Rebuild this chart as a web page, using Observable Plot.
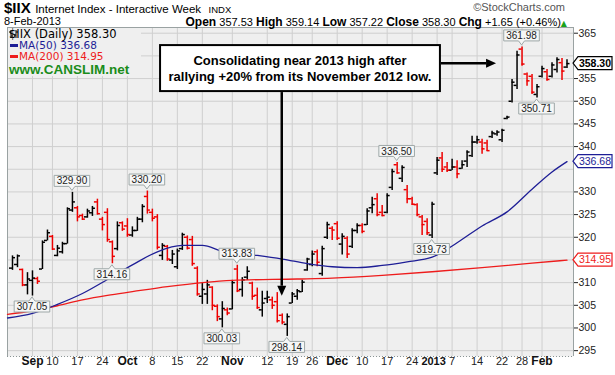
<!DOCTYPE html>
<html><head><meta charset="utf-8">
<script src="https://cdn.jsdelivr.net/npm/d3@7"></script>
<script src="https://cdn.jsdelivr.net/npm/@observablehq/plot@0.6"></script>
<style>
body{margin:0;background:#fff;}
#wrap{position:relative;width:615px;height:375px;overflow:hidden;font-family:"Liberation Sans",Arial,sans-serif;}
#wrap svg{position:absolute;left:0;top:0;}
.abs{position:absolute;white-space:nowrap;line-height:1;}
</style></head><body>
<div id="wrap"></div>
<script>
// ---------- data ----------
const dates = [
"2012-08-28","2012-08-29","2012-08-30","2012-08-31",
"2012-09-04","2012-09-05","2012-09-06","2012-09-07",
"2012-09-10","2012-09-11","2012-09-12","2012-09-13","2012-09-14",
"2012-09-17","2012-09-18","2012-09-19","2012-09-20","2012-09-21",
"2012-09-24","2012-09-25","2012-09-26","2012-09-27","2012-09-28",
"2012-10-01","2012-10-02","2012-10-03","2012-10-04","2012-10-05",
"2012-10-08","2012-10-09","2012-10-10","2012-10-11","2012-10-12",
"2012-10-15","2012-10-16","2012-10-17","2012-10-18","2012-10-19",
"2012-10-22","2012-10-23","2012-10-24","2012-10-25","2012-10-26",
"2012-10-31",
"2012-11-01","2012-11-02",
"2012-11-05","2012-11-06","2012-11-07","2012-11-08","2012-11-09",
"2012-11-12","2012-11-13","2012-11-14","2012-11-15","2012-11-16",
"2012-11-19","2012-11-20","2012-11-21","2012-11-23",
"2012-11-26","2012-11-27","2012-11-28","2012-11-29","2012-11-30",
"2012-12-03","2012-12-04","2012-12-05","2012-12-06","2012-12-07",
"2012-12-10","2012-12-11","2012-12-12","2012-12-13","2012-12-14",
"2012-12-17","2012-12-18","2012-12-19","2012-12-20","2012-12-21",
"2012-12-24","2012-12-26","2012-12-27","2012-12-28","2012-12-31",
"2013-01-02","2013-01-03","2013-01-04",
"2013-01-07","2013-01-08","2013-01-09","2013-01-10","2013-01-11",
"2013-01-14","2013-01-15","2013-01-16","2013-01-17","2013-01-18",
"2013-01-22","2013-01-23","2013-01-24","2013-01-25",
"2013-01-28","2013-01-29","2013-01-30","2013-01-31",
"2013-02-01","2013-02-04","2013-02-05","2013-02-06","2013-02-07","2013-02-08"];

const open = [
313.2,314.0,312.9,309.5,310.5,310.9,313.0,319.3,320.2,316.0,
316.8,318.6,326.0,326.5,324.8,324.5,325.4,327.8,324.0,325.5,
319.0,317.5,323.2,322.5,320.5,321.5,324.0,329.0,325.5,324.5,
316.0,318.0,315.0,313.5,317.5,320.0,319.5,313.2,307.0,307.5,
309.0,304.8,302.0,304.0,304.2,313.0,308.5,311.2,309.9,307.2,
304.0,306.5,306.2,305.8,302.8,300.8,305.5,307.0,308.0,312.8,
314.0,316.8,312.0,320.0,322.0,323.0,318.5,319.8,318.0,321.5,
322.6,322.8,326.5,328.5,325.5,325.5,331.0,336.0,333.0,330.5,
328.5,327.2,324.5,323.5,320.5,334.2,337.5,335.5,334.8,335.5,
335.2,336.8,338.0,341.0,341.0,340.8,342.2,342.8,341.5,346.2,
350.0,353.5,361.5,356.0,355.5,351.5,355.5,356.5,355.5,357.0,
358.5,357.53];
const high = [
315.9,316.1,313.0,312.2,312.6,311.2,319.2,321.6,320.4,318.2,
318.9,326.5,329.9,326.8,325.1,326.2,326.8,328.4,324.4,326.3,
319.2,323.4,323.4,324.1,322.3,324.4,327.2,330.2,326.2,325.0,
318.6,318.2,317.1,317.4,320.9,320.3,320.2,313.5,309.8,310.5,
309.1,305.1,305.8,304.4,310.5,313.83,311.1,313.5,310.1,308.8,
308.1,308.1,306.8,307.8,303.1,303.1,307.8,308.5,310.5,315.4,
317.0,317.2,318.0,323.3,322.3,323.4,320.8,320.1,321.9,323.0,
323.0,326.3,328.8,329.6,327.0,329.6,335.0,336.5,335.8,331.4,
328.8,327.4,324.8,324.1,327.7,337.6,338.7,336.5,337.2,336.9,
336.9,339.1,342.3,342.3,341.6,341.4,343.4,343.5,343.8,346.7,
354.8,361.0,361.98,356.2,355.9,353.7,357.7,357.0,358.5,359.6,
359.4,359.14];
const low = [
312.7,313.3,309.1,307.3,307.05,309.6,312.9,319.2,317.1,315.7,
316.3,318.5,325.5,323.4,323.7,324.2,324.6,324.9,321.4,318.9,
314.16,317.0,321.3,320.0,320.0,321.3,323.2,325.1,323.4,317.2,
314.9,314.7,314.0,312.9,317.1,317.2,313.6,307.0,305.2,305.2,
303.8,301.4,300.03,302.7,304.0,307.8,306.8,310.5,306.1,304.1,
302.4,305.4,304.1,301.1,300.7,298.14,305.4,306.1,307.8,312.5,
313.5,313.5,311.4,319.5,319.3,319.3,316.1,315.3,317.5,320.8,
320.8,322.6,325.2,324.5,324.5,325.2,330.3,333.9,332.1,327.4,
327.0,324.5,320.4,320.4,319.73,333.6,334.3,334.3,334.7,332.9,
335.0,335.4,337.6,340.5,338.3,338.9,341.8,342.3,340.9,345.9,
349.6,352.6,357.7,353.3,351.5,350.71,355.1,354.4,355.1,356.2,
354.6,357.22];
const close = [
315.5,315.9,309.5,310.8,311.0,310.3,318.9,321.0,317.4,317.6,
318.6,326.3,327.8,324.5,324.0,325.8,326.4,325.2,322.8,319.5,
315.8,322.6,321.8,320.6,321.5,324.0,326.8,326.0,324.2,317.8,
318.2,315.2,316.3,317.0,320.6,317.6,314.2,307.5,308.5,309.5,
305.0,302.5,304.3,303.3,310.0,308.2,310.6,312.5,307.0,304.5,
305.5,306.8,305.0,301.6,301.3,302.5,307.5,308.2,310.1,315.2,
316.3,314.5,317.5,322.8,321.6,319.8,320.2,316.3,321.5,322.6,
321.3,325.8,327.2,325.0,324.8,329.2,334.5,334.2,335.4,328.5,
327.3,325.0,322.8,321.0,327.3,337.0,335.0,334.8,335.5,334.0,
336.0,338.8,341.0,341.5,339.5,339.1,343.0,343.2,343.6,346.5,
354.2,360.2,358.2,354.5,352.0,353.2,357.2,354.8,358.0,359.2,
356.65,358.30];

// moving averages read at sampled trading-day positions (index into dates)
const ma50At  = [-1,4,9,14,19,24,29,34,38,42,49,54,59,64,69,74,79,84,89,94,99,104,108,111];
const ma50    = [302.2,303.2,305.2,307.6,310.7,313.9,316.8,318.2,318.2,316.9,316.0,315.2,314.2,313.5,313.3,313.8,314.6,315.6,318.8,322.5,325.6,330.6,334.4,336.68];
const ma200At = [-1,4,9,14,19,24,31,38,44,57,64,74,84,94,104,111];
const ma200   = [303.0,303.8,304.9,306.2,307.2,308.0,309.1,310.0,310.5,310.8,311.0,311.6,312.4,313.3,314.3,314.95];

const xTickDates  = ["2012-09-04","2012-09-10","2012-09-17","2012-09-24","2012-10-01","2012-10-08","2012-10-15","2012-10-22","2012-11-01","2012-11-12","2012-11-19","2012-11-26","2012-12-03","2012-12-10","2012-12-17","2012-12-24","2013-01-02","2013-01-07","2013-01-14","2013-01-22","2013-01-28","2013-02-01"];
const xTickLabels = ["Sep","10","17","24","Oct","8","15","22","Nov","12","19","26","Dec","10","17","24","2013","7","14","22","28","Feb"];
const yTicks = [295,300,305,310,315,320,325,330,335,340,345,350,355,360,365];

const calloutDates  = ["2012-09-04","2012-09-14","2012-09-26","2012-10-05","2012-10-26","2012-11-02","2012-11-16","2012-12-19","2012-12-31","2013-01-28","2013-01-31"];
const calloutValues = [307.05,329.90,314.16,330.20,300.03,313.83,298.14,336.50,319.73,361.98,350.71];
const calloutSides  = ["below","above","below","above","below","above","below","above","below","above","below"];

const noteLines = ["Consolidating near 2013 high after","rallying +20% from its November 2012 low."];
const noteCenter = {j: 57.65, v: 357.2};
const arrowTargets = [{j: 54, v: 307.0}, {j: 96.9, v: 358.25}];

// ---------- derived ----------
const last = dates.length - 1;
const idx = d => dates.indexOf(d);
const bars = dates.map((d, j) => ({
  j, o: open[j], h: high[j], l: low[j], c: close[j],
  col: close[j] < (j ? close[j - 1] : open[j]) ? "#ee0000" : "#000000"
}));
const xTicks = xTickDates.map((d, k) => ({j: idx(d), label: xTickLabels[k]}));
const isYear = t => t.length === 4 && !isNaN(+t);
const isMonth = t => isNaN(+t);
const ma50Pts = ma50At.map((j, k) => ({j, v: ma50[k]}));
const ma200Pts = ma200At.map((j, k) => ({j, v: ma200[k]}));
const xDomain = [-1, 112.3], yDomain = [293.71, 366.26];

const NAVY = "#1e1e96", RED = "#ee1c1c", GRID = "#cfcfcf";
const tags = [
  {v: close[last], color: "#000", bold: true},
  {v: ma50[ma50.length - 1], color: NAVY, bold: false},
  {v: ma200[ma200.length - 1], color: RED, bold: false}
];
// tick labels that sit under a value tag are covered by it
const yLabelTicks = yTicks.filter(t => tags.every(tg => Math.abs(tg.v - t) > 2.9));

const chart = Plot.plot({
  width: 615, height: 375,
  marginTop: 27, marginRight: 42, marginBottom: 19, marginLeft: 7,
  style: {fontFamily: '"Liberation Sans", Arial, sans-serif', fontSize: "10.5px", color: "#222", background: "transparent", overflow: "visible"},
  x: {domain: xDomain, axis: null},
  y: {domain: yDomain, axis: "right", ticks: yLabelTicks, tickSize: 4, tickPadding: 1, tickFormat: d => d, label: null},
  color: {type: "identity"},
  marks: [
    Plot.frame({fill: "#efefef", stroke: "none"}),
    Plot.ruleY(yTicks, {stroke: GRID}),
    Plot.ruleX(xTicks, {x: "j", stroke: GRID}),
    Plot.ruleX([xDomain[0]], {stroke: "#9aa2a2"}),
    Plot.ruleX([xDomain[1]], {stroke: "#9aa2a2"}),
    Plot.ruleY([yDomain[1]], {stroke: "#9aa2a2"}),
    Plot.ruleY([yDomain[0]], {stroke: "#8a9494", strokeDasharray: "1,2"}),
    Plot.ruleX(bars, {x: "j", y1: "l", y2: "h", stroke: "col", strokeWidth: 1.5}),
    Plot.ruleY(bars, {y: "o", x1: d => d.j - 0.6, x2: "j", stroke: "col", strokeWidth: 1.5}),
    Plot.ruleY(bars, {y: "c", x1: "j", x2: d => d.j + 0.6, stroke: "col", strokeWidth: 1.5}),
    Plot.line(ma200Pts, {x: "j", y: "v", stroke: RED, strokeWidth: 1.3, curve: "monotone-x"}),
    Plot.line(ma50Pts, {x: "j", y: "v", stroke: NAVY, strokeWidth: 1.3, curve: "monotone-x"}),
    Plot.text(xTicks.filter(d => isMonth(d.label)), {x: "j", text: "label", frameAnchor: "bottom", dy: 8, fontWeight: "bold", fontSize: 12, fill: "#111"}),
    Plot.text(xTicks.filter(d => isYear(d.label)), {x: "j", text: "label", frameAnchor: "bottom", dy: 8, dx: -3.5, fontWeight: "bold", fontSize: 11, fill: "#111"}),
    Plot.text(xTicks.filter(d => !isMonth(d.label) && !isYear(d.label)), {x: "j", text: "label", frameAnchor: "bottom", dy: 8, fontSize: 11, fill: "#222"})
  ]
});

const wrap = document.getElementById("wrap");
wrap.appendChild(chart);

// ---------- overlays positioned through Plot's scales ----------
const sx = chart.scale("x"), sy = chart.scale("y");
const ov = d3.select(chart).append("g").attr("font-family", '"Liberation Sans", Arial, sans-serif');

// callouts
calloutDates.forEach((d, k) => {
  const v = calloutValues[k], above = calloutSides[k] === "above";
  const px = sx.apply(idx(d)), py = sy.apply(v);
  const g = ov.append("g");
  const path = g.append("path");
  const t = g.append("text").text(v.toFixed(2)).attr("font-size", 10).attr("text-anchor", "middle").attr("fill", "#222");
  const w = t.node().getComputedTextLength() + 5, h = 11, pl = 4, gap = 1.5;
  const tip = above ? py - gap : py + gap;
  const edge = above ? tip - pl : tip + pl;
  const far = above ? edge - h : edge + h;
  path.attr("d", `M${px - w / 2},${edge}L${px - 3},${edge}L${px},${tip}L${px + 3},${edge}L${px + w / 2},${edge}L${px + w / 2},${far}L${px - w / 2},${far}Z`)
    .attr("fill", "#f5f6f6").attr("stroke", "#9ea8a8");
  t.attr("x", px).attr("y", (edge + far) / 2).attr("dy", "0.36em");
});

// right-side value tags
const rx = sx.apply(xDomain[1]);
tags.forEach(tg => {
  const py = sy.apply(tg.v);
  ov.append("path").attr("d", `M${rx},${py}L${rx + 5},${py - 6.5}L${rx + 39},${py - 6.5}L${rx + 39},${py + 6.5}L${rx + 5},${py + 6.5}Z`)
    .attr("fill", "#fff").attr("stroke", tg.color).attr("stroke-width", 1.2);
  ov.append("text").text(tg.v.toFixed(2)).attr("x", rx + 22).attr("y", py).attr("dy", "0.36em")
    .attr("text-anchor", "middle").attr("font-size", 10.5).attr("font-weight", tg.bold ? "bold" : "normal").attr("fill", tg.color);
});

// annotation box
const cx = sx.apply(noteCenter.j), cy = sy.apply(noteCenter.v);
const ng = ov.append("g");
const rect = ng.append("rect");
const texts = noteLines.map((s, k) => ng.append("text").text(s).attr("x", cx).attr("y", cy + (k ? 8 : -8)).attr("dy", "0.36em")
  .attr("text-anchor", "middle").attr("font-size", 13).attr("font-weight", "bold").attr("fill", "#000"));
const tw = Math.max(...texts.map(t => t.node().getComputedTextLength()));
const bw = tw + 17, bh = 46;
const bx0 = cx - bw / 2, bx1 = cx + bw / 2, by0 = cy - bh / 2, by1 = cy + bh / 2;
rect.attr("x", bx0).attr("y", by0).attr("width", bw).attr("height", bh).attr("fill", "#fff").attr("stroke", "#000").attr("stroke-width", 2);

// arrows
arrowTargets.forEach(a => {
  const tx = sx.apply(a.j), ty = sy.apply(a.v);
  let x0, y0;
  if (ty > by1) { x0 = tx; y0 = by1 + 1; } else { x0 = bx1 + 1; y0 = ty; }
  const dx = tx - x0, dy = ty - y0, len = Math.hypot(dx, dy), ux = dx / len, uy = dy / len;
  const hl = 10, hw = 4.5;
  const bxp = tx - ux * hl, byp = ty - uy * hl;
  ov.append("line").attr("x1", x0).attr("y1", y0).attr("x2", bxp).attr("y2", byp).attr("stroke", "#000").attr("stroke-width", 2.5);
  ov.append("path").attr("d", `M${tx},${ty}L${bxp - uy * hw},${byp + ux * hw}L${bxp + uy * hw},${byp - ux * hw}Z`).attr("fill", "#000");
});

// ---------- header and legend (HTML) ----------
const chg = close[last] - close[last - 1];
const pct = chg / close[last - 1] * 100;
const sign = v => (v >= 0 ? "+" : "") + v.toFixed(2);
const html = `
<div class="abs" style="left:4px;top:0px;color:#000">
  <span style="font-size:15px;font-weight:bold">$IIX</span>
  <span style="font-size:11.5px">Internet Index - Interactive Week</span>
  <span style="font-size:9.5px;margin-left:3px">INDX</span>
</div>
<div class="abs" style="right:50px;top:2px;font-size:11px;color:#555">©StockCharts.com</div>
<div class="abs" style="left:4px;top:16px;font-size:11px;color:#000">8-Feb-2013</div>
<div class="abs" style="right:48px;top:15.5px;color:#000;font-size:11px">
  <b style="font-size:12px">Open</b> ${open[last].toFixed(2)}
  <b style="font-size:12px">High</b> ${high[last].toFixed(2)}
  <b style="font-size:12px">Low</b> ${low[last].toFixed(2)}
  <b style="font-size:12px">Close</b> ${close[last].toFixed(2)}
  <b style="font-size:12px">Chg</b> ${sign(chg)} (${sign(pct)}%)<span style="color:#1aa31a;font-size:8px;font-family:'DejaVu Sans'">▲</span>
</div>
<div class="abs" style="left:8px;top:28px;width:133px;height:48px;background:#efefef"></div>
<div class="abs" style="left:9px;top:28.5px;font-family:'DejaVu Sans';font-size:11.5px;color:#000">
  <svg width="10" height="10" style="vertical-align:-1px"><path d="M2,1V9M0,3H2M2,7H4M7,1V9M5,6H7M7,3H9" stroke="#000" fill="none"/></svg> $IIX (Daily) ${close[last].toFixed(2)}
</div>
<div class="abs" style="left:10px;top:44px;width:8px;height:2.5px;background:${NAVY}"></div>
<div class="abs" style="left:19px;top:40px;font-family:'DejaVu Sans';font-size:10.5px;color:${NAVY}">MA(50) ${ma50[ma50.length - 1].toFixed(2)}</div>
<div class="abs" style="left:10px;top:55px;width:8px;height:2.5px;background:${RED}"></div>
<div class="abs" style="left:19px;top:51.2px;font-family:'DejaVu Sans';font-size:10.5px;color:${RED}">MA(200) ${ma200[ma200.length - 1].toFixed(2)}</div>
<div class="abs" style="left:9px;top:62.5px;font-size:13.5px;font-weight:bold;color:#1a8c1a">www.CANSLIM.net</div>
`;
wrap.insertAdjacentHTML("beforeend", html);
</script>
</body></html>
